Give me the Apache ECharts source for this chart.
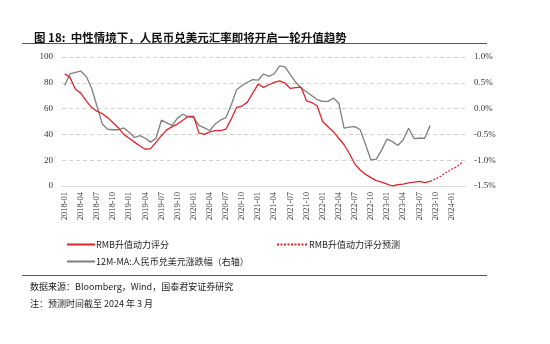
<!DOCTYPE html>
<html>
<head>
<meta charset="utf-8">
<script src="https://cdn.jsdelivr.net/npm/echarts@6/dist/echarts.min.js"></script>
<style>
html,body{margin:0;padding:0;background:#fff;}
#chart{width:550px;height:344px;}
</style>
</head>
<body>
<div id="chart"></div>
<script>
// Months 2018-01 .. 2024-03
const months = [];
for (let y = 2018; y <= 2024; y++) {
  for (let m = 1; m <= 12; m++) {
    if (y === 2024 && m > 3) break;
    months.push(y + '-' + (m < 10 ? '0' + m : '' + m));
  }
}

// RMB升值动力评分 (2018-01 .. 2023-09)
const scoreActual = [
  87, 84, 75, 72, 66, 61, 58, 56, 53, 49, 45, 40,
  37, 34, 31, 28.5, 29, 34, 39, 43.5, 46, 48, 51, 54,
  54, 41, 40, 42, 43, 43, 44, 52, 61, 62, 65, 72,
  79, 76.4, 78.5, 80.3, 81.5, 79.7, 75.6, 76.2, 76.6, 66, 64.7, 62,
  50, 46, 42, 37, 32, 25, 17, 12.4, 9, 6.5, 4.2, 3,
  1.5, 0, 1, 1.5, 2.5, 3, 3.6, 2.6, 3.5
];

// RMB升值动力评分预测 (2023-09 .. 2024-03)
const scoreForecast = [3.5, 5.5, 7.5, 10.5, 13, 15, 18.5];
const forecastStart = 68;

// 12M-MA: 人民币兑美元涨跌幅 (右轴, %)
const fxMA = [
  0.45, 0.675, 0.70, 0.725, 0.625, 0.40, 0.05, -0.30, -0.40, -0.41, -0.41, -0.375,
  -0.46, -0.56, -0.525, -0.575, -0.65, -0.575, -0.225, -0.275, -0.325, -0.185, -0.11, -0.16,
  -0.175, -0.325, -0.375, -0.425, -0.30, -0.225, -0.175, 0.075, 0.365, 0.45, 0.51, 0.56,
  0.55, 0.67, 0.625, 0.675, 0.83, 0.81, 0.66, 0.51, 0.40, 0.325, 0.25, 0.175,
  0.14, 0.14, 0.205, 0.11, -0.38, -0.36, -0.35, -0.41, -0.70, -0.995, -0.98, -0.80,
  -0.59, -0.64, -0.715, -0.605, -0.38, -0.58, -0.575, -0.575, -0.33
];

const leftTicks = {min: 0, max: 100, interval: 20};
const rightTicks = {min: -1.5, max: 1.0, interval: 0.5};

const forecastData = months.map((m, i) =>
  (i >= forecastStart && i - forecastStart < scoreForecast.length) ? scoreForecast[i - forecastStart] : null);

const RED = '#d9262c';
const GRAY = '#7f7f7f';
const serif = 'Liberation Serif';
const cjk = 'Noto Sans CJK SC';

const chart = echarts.init(document.getElementById('chart'), null, {renderer: 'canvas'});
chart.setOption({
  animation: false,
  backgroundColor: '#fff',
  title: {
    text: '图 18:  中性情境下，人民币兑美元汇率即将开启一轮升值趋势',
    left: 29, top: 27,
    textStyle: {fontFamily: cjk, fontWeight: 'bold', fontSize: 11.5, color: '#111'}
  },
  graphic: [
    {type: 'line', shape: {x1: 22, y1: 43.5, x2: 487, y2: 43.5}, style: {stroke: '#555', lineWidth: 1}},
    {type: 'line', shape: {x1: 22, y1: 275.5, x2: 487, y2: 275.5}, style: {stroke: '#555', lineWidth: 1}},
    {type: 'text', left: 30, top: 282, style: {text: '数据来源：Bloomberg，Wind，国泰君安证券研究', font: '9px "Noto Sans CJK SC"', fill: '#222'}},
    {type: 'text', left: 30, top: 299, style: {text: '注：预测时间截至 2024 年 3 月', font: '9px "Noto Sans CJK SC"', fill: '#222'}}
  ],
  grid: {left: 62, right: 85, top: 57, bottom: 158, containLabel: false},
  legend: [
    {
      data: ['RMB升值动力评分', '12M-MA:人民币兑美元涨跌幅（右轴）'],
      orient: 'vertical', left: 61, top: 235, itemWidth: 28, itemHeight: 10, itemGap: 8,
      itemStyle: {opacity: 0},
      textStyle: {fontFamily: cjk, fontSize: 9, color: '#222', padding: [0, 0, 0, -4]}
    },
    {
      data: ['RMB升值动力评分预测'],
      left: 271, top: 235, itemWidth: 31, itemHeight: 10,
      itemStyle: {opacity: 0},
      textStyle: {fontFamily: cjk, fontSize: 9, color: '#222', padding: [0, 0, 0, -4]}
    }
  ],
  xAxis: {
    type: 'category', data: months, boundaryGap: true,
    axisLine: {lineStyle: {color: '#d9d9d9', width: 1}},
    axisTick: {show: false},
    axisLabel: {interval: 2, rotate: 90, fontFamily: serif, fontSize: 8.5, color: '#333', margin: 6}
  },
  yAxis: [
    {
      type: 'value', min: leftTicks.min, max: leftTicks.max, interval: leftTicks.interval,
      axisLine: {show: false}, axisTick: {show: false},
      axisLabel: {fontFamily: serif, fontSize: 9, color: '#333', margin: 9},
      splitLine: {lineStyle: {color: '#d0d0d0', type: [4, 3], width: 1}}
    },
    {
      type: 'value', min: rightTicks.min, max: rightTicks.max, interval: rightTicks.interval,
      axisLine: {show: false}, axisTick: {show: false}, splitLine: {show: false},
      axisLabel: {fontFamily: serif, fontSize: 9, color: '#333', margin: 9,
        formatter: v => v.toFixed(1) + '%'}
    }
  ],
  series: [
    {
      name: 'RMB升值动力评分', type: 'line', data: scoreActual, yAxisIndex: 0,
      symbol: 'none', lineStyle: {color: RED, width: 1.3}, itemStyle: {color: RED}, z: 3
    },
    {
      name: 'RMB升值动力评分预测', type: 'line', data: forecastData, yAxisIndex: 0,
      symbol: 'none', lineStyle: {color: RED, width: 1.2, type: [2, 1.5]}, itemStyle: {color: RED}, z: 3
    },
    {
      name: '12M-MA:人民币兑美元涨跌幅（右轴）', type: 'line', data: fxMA, yAxisIndex: 1,
      symbol: 'none', lineStyle: {color: GRAY, width: 1.3}, itemStyle: {color: GRAY}, z: 2
    }
  ]
});
</script>
</body>
</html>
